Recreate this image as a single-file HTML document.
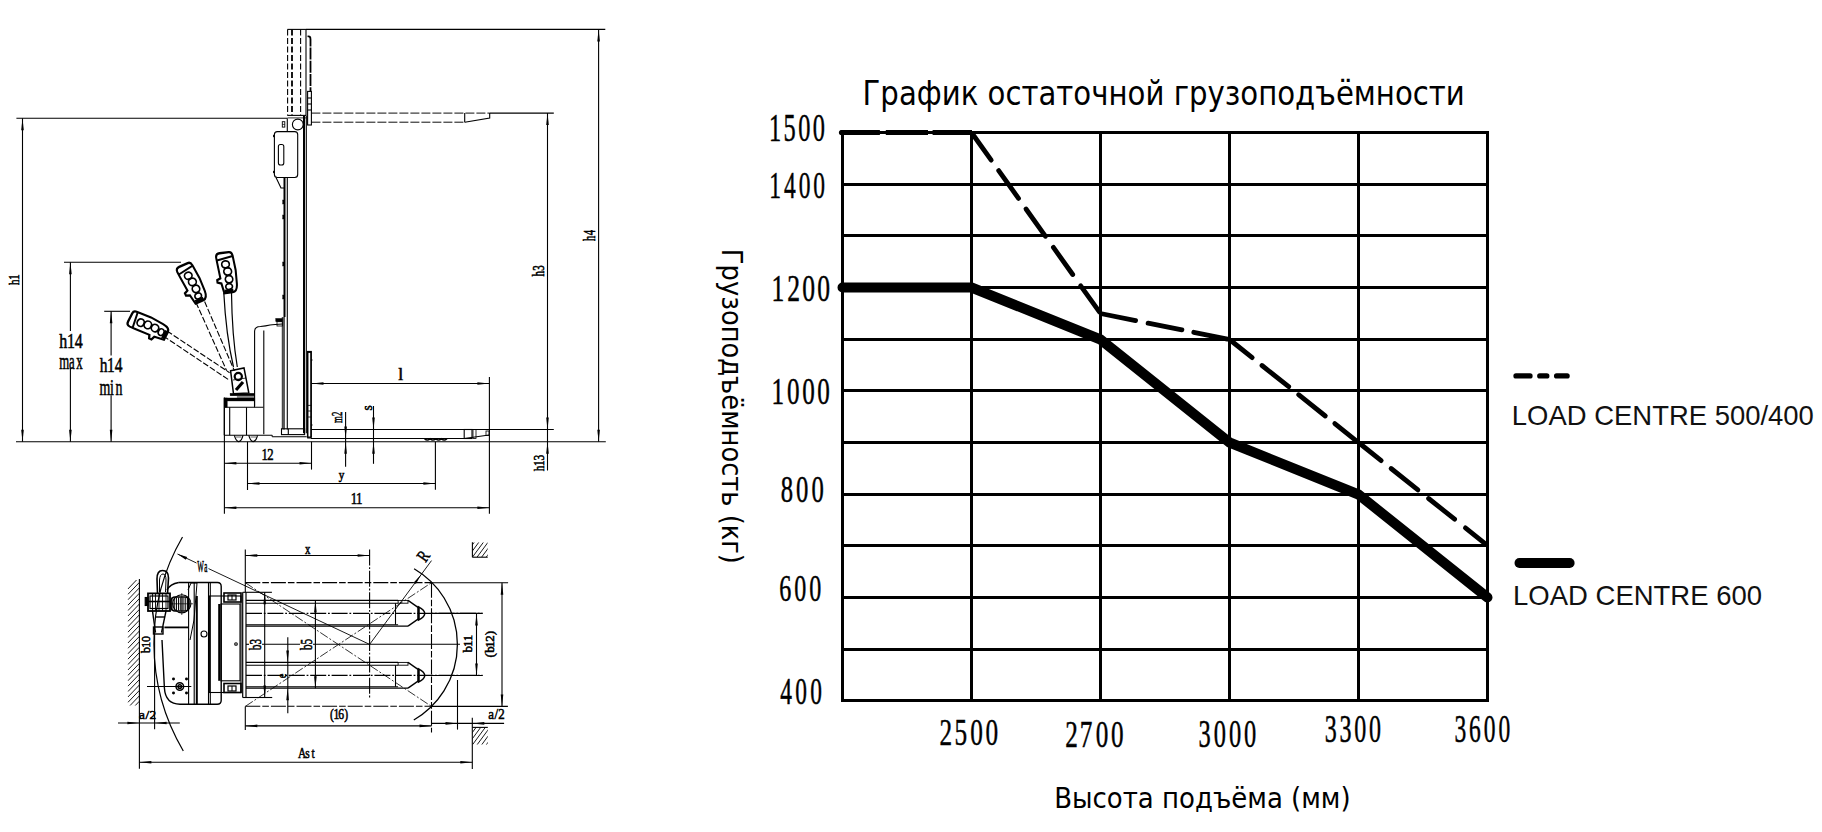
<!DOCTYPE html>
<html><head><meta charset="utf-8"><title>График остаточной грузоподъёмности</title>
<style>
html,body{margin:0;padding:0;background:#fff;}
body{width:1822px;height:832px;overflow:hidden;}
svg{display:block;}
.num{font-family:"Liberation Serif",serif;fill:#000;stroke:#000;stroke-width:0.5px;}
.ttl{font-family:"DejaVu Sans Condensed","DejaVu Sans",sans-serif;fill:#000;}
.lg{font-family:"Liberation Sans",sans-serif;fill:#111;}
.dt{font-family:"Liberation Serif",serif;fill:#000;stroke:#000;stroke-width:0.55px;}
</style></head>
<body>
<svg width="1822" height="832" viewBox="0 0 1822 832">
<rect width="1822" height="832" fill="#fff"/>
<g id="chart">
<line x1="841.0" y1="132.5" x2="1489.0" y2="132.5" stroke="#000" stroke-width="3"/>
<line x1="841.0" y1="184.5" x2="1489.0" y2="184.5" stroke="#000" stroke-width="3"/>
<line x1="841.0" y1="235.5" x2="1489.0" y2="235.5" stroke="#000" stroke-width="3"/>
<line x1="841.0" y1="287.5" x2="1489.0" y2="287.5" stroke="#000" stroke-width="3"/>
<line x1="841.0" y1="339.5" x2="1489.0" y2="339.5" stroke="#000" stroke-width="3"/>
<line x1="841.0" y1="390.5" x2="1489.0" y2="390.5" stroke="#000" stroke-width="3"/>
<line x1="841.0" y1="442.5" x2="1489.0" y2="442.5" stroke="#000" stroke-width="3"/>
<line x1="841.0" y1="494.5" x2="1489.0" y2="494.5" stroke="#000" stroke-width="3"/>
<line x1="841.0" y1="545.5" x2="1489.0" y2="545.5" stroke="#000" stroke-width="3"/>
<line x1="841.0" y1="597.5" x2="1489.0" y2="597.5" stroke="#000" stroke-width="3"/>
<line x1="841.0" y1="649.5" x2="1489.0" y2="649.5" stroke="#000" stroke-width="3"/>
<line x1="841.0" y1="700.5" x2="1489.0" y2="700.5" stroke="#000" stroke-width="3"/>
<line x1="842.5" y1="131.0" x2="842.5" y2="702.0" stroke="#000" stroke-width="3"/>
<line x1="971.5" y1="131.0" x2="971.5" y2="702.0" stroke="#000" stroke-width="3"/>
<line x1="1100.5" y1="131.0" x2="1100.5" y2="702.0" stroke="#000" stroke-width="3"/>
<line x1="1229.5" y1="131.0" x2="1229.5" y2="702.0" stroke="#000" stroke-width="3"/>
<line x1="1358.5" y1="131.0" x2="1358.5" y2="702.0" stroke="#000" stroke-width="3"/>
<line x1="1487.5" y1="131.0" x2="1487.5" y2="702.0" stroke="#000" stroke-width="3"/>
<g stroke="#000" stroke-width="4.8" stroke-linecap="round"><line x1="972.9" y1="134.5" x2="991.2" y2="160.1"/><line x1="998.7" y1="170.6" x2="1018.5" y2="198.4"/><line x1="1026.0" y1="209.0" x2="1045.5" y2="236.3"/><line x1="1053.4" y1="247.4" x2="1072.7" y2="274.5"/><line x1="1080.7" y1="285.8" x2="1099.6" y2="312.2"/><line x1="1102.9" y1="314.0" x2="1135.6" y2="320.6"/><line x1="1148.1" y1="323.1" x2="1181.9" y2="329.9"/><line x1="1193.8" y1="332.3" x2="1227.5" y2="339.1"/><line x1="1231.4" y1="341.0" x2="1252.2" y2="357.6"/><line x1="1262.0" y1="365.5" x2="1288.7" y2="386.7"/><line x1="1298.6" y1="394.7" x2="1325.3" y2="416.0"/><line x1="1334.8" y1="423.6" x2="1356.3" y2="440.8"/><line x1="1360.4" y1="444.0" x2="1381.2" y2="460.6"/><line x1="1391.1" y1="468.5" x2="1417.9" y2="489.9"/><line x1="1428.6" y1="498.5" x2="1454.6" y2="519.2"/><line x1="1465.4" y1="527.9" x2="1485.7" y2="544.1"/></g>
<g stroke="#000" stroke-width="4.8"><line x1="840.5" y1="132.5" x2="879.9" y2="132.5"/><line x1="885.8" y1="132.5" x2="928" y2="132.5"/><line x1="932.6" y1="132.5" x2="972" y2="132.5"/></g><circle cx="841.5" cy="132.5" r="2.6" fill="#000"/>
<polyline points="842.5,287.5 971.5,287.5 1100.5,339.5 1229.5,442.5 1358.5,494.5 1487.5,597.5" fill="none" stroke="#000" stroke-width="10" stroke-linejoin="round" stroke-linecap="round"/>
<text class="num" transform="scale(0.6086,1)" x="1263.57 1287.49 1311.61 1335.36" y="141.21" font-size="40.01">1500</text>
<text class="num" transform="scale(0.6016,1)" x="1278.57 1303.25 1327.55 1351.76" y="197.92" font-size="38.97">1400</text>
<text class="num" transform="scale(0.6905,1)" x="1117.31 1139.99 1161.73 1183.68" y="300.94" font-size="37.05">1200</text>
<text class="num" transform="scale(0.6783,1)" x="1137.50 1160.35 1182.68 1205.02" y="403.84" font-size="37.05">1000</text>
<text class="num" transform="scale(0.6631,1)" x="1177.27 1200.45 1223.64" y="501.94" font-size="37.20">800</text>
<text class="num" transform="scale(0.6269,1)" x="1242.88 1267.11 1291.08" y="600.73" font-size="38.38">600</text>
<text class="num" transform="scale(0.6309,1)" x="1236.78 1260.56 1284.27" y="703.64" font-size="37.05">400</text>
<text class="num" transform="scale(0.6552,1)" x="1434.09 1456.91 1480.67 1504.07" y="745.42" font-size="38.53">2500</text>
<text class="num" transform="scale(0.6506,1)" x="1637.22 1659.81 1684.06 1707.59" y="747.02" font-size="38.68">2700</text>
<text class="num" transform="scale(0.6177,1)" x="1940.26 1964.97 1989.51 2014.05" y="747.01" font-size="39.57">3000</text>
<text class="num" transform="scale(0.5960,1)" x="2222.54 2247.35 2272.33 2297.13" y="742.01" font-size="40.31">3300</text>
<text class="num" transform="scale(0.5834,1)" x="2493.11 2518.08 2543.41 2568.47" y="742.01" font-size="40.31">3600</text>
<text class="ttl" x="862.55" y="104.90" font-size="33.60" textLength="602.28" lengthAdjust="spacingAndGlyphs">График остаточной грузоподъёмности</text>
<text class="ttl" x="1054.16" y="807.80" font-size="28.90" textLength="296.47" lengthAdjust="spacingAndGlyphs">Высота подъёма (мм)</text>
<text class="ttl" transform="rotate(90)" x="248.88" y="-722.20" font-size="27.80" textLength="315.03" lengthAdjust="spacingAndGlyphs">Грузоподъёмность (кг)</text>
<line x1="1516.0" y1="375.9" x2="1530.0" y2="375.9" stroke="#000" stroke-width="5.3" stroke-linecap="round"/><line x1="1539.8" y1="375.9" x2="1546.8" y2="375.9" stroke="#000" stroke-width="5.3" stroke-linecap="round"/><line x1="1556.6" y1="375.9" x2="1567.1" y2="375.9" stroke="#000" stroke-width="5.3" stroke-linecap="round"/>
<line x1="1519.4" y1="563" x2="1569.7" y2="563" stroke="#000" stroke-width="9.8" stroke-linecap="round"/>
<text class="lg" x="1511.85" y="424.54" font-size="26.83" textLength="302.02" lengthAdjust="spacingAndGlyphs">LOAD CENTRE 500/400</text>
<text class="lg" x="1513.04" y="604.54" font-size="27.12" textLength="249.03" lengthAdjust="spacingAndGlyphs">LOAD CENTRE 600</text>
</g>
<g id="drawing" fill="none" stroke="#000" stroke-width="1.1">
<line x1="16.0" y1="441.7" x2="605.8" y2="441.7"/>
<line x1="16.4" y1="118.2" x2="287.0" y2="118.2"/>
<line x1="22.5" y1="118.2" x2="22.5" y2="441.7"/>
<polygon points="22.5,118.2 23.8,130.2 21.2,130.2" fill="#000" stroke="none"/>
<polygon points="22.5,441.7 21.2,429.7 23.8,429.7" fill="#000" stroke="none"/>
<text class="dt" transform="rotate(-90) scale(0.7120,1)" x="-400.41 -393.06" y="18.80" font-size="15.57">h1</text>
<line x1="64.0" y1="262.2" x2="181.0" y2="262.2"/>
<line x1="70.4" y1="262.2" x2="70.4" y2="331.0"/>
<line x1="70.4" y1="368.0" x2="70.4" y2="441.7"/>
<polygon points="70.4,262.2 71.7,274.2 69.1,274.2" fill="#000" stroke="none"/>
<polygon points="70.4,441.7 69.1,429.7 71.7,429.7" fill="#000" stroke="none"/>
<text class="dt" transform="scale(0.7340,1)" x="80.85 91.13 102.00" y="347.60" font-size="21.76">h14</text>
<text class="dt" transform="scale(0.5646,1)" x="104.91 122.05 135.24" y="369.08" font-size="22.66">max</text>
<line x1="104.2" y1="311.3" x2="130.0" y2="311.3"/>
<line x1="111.1" y1="311.3" x2="111.1" y2="355.6"/>
<line x1="111.1" y1="395.2" x2="111.1" y2="441.7"/>
<polygon points="111.1,311.3 112.4,323.3 109.8,323.3" fill="#000" stroke="none"/>
<polygon points="111.1,441.7 109.8,429.7 112.4,429.7" fill="#000" stroke="none"/>
<text class="dt" transform="scale(0.7070,1)" x="141.08 151.42 162.36" y="372.20" font-size="21.91">h14</text>
<text class="dt" transform="scale(0.6265,1)" x="158.99 175.78 184.45" y="395.50" font-size="22.20">min</text>
<line x1="306.0" y1="29.4" x2="605.3" y2="29.4"/>
<line x1="598.6" y1="29.4" x2="598.6" y2="441.7"/>
<polygon points="598.6,29.4 599.9,41.4 597.3,41.4" fill="#000" stroke="none"/>
<polygon points="598.6,441.7 597.3,429.7 599.9,429.7" fill="#000" stroke="none"/>
<text class="dt" transform="rotate(-90) scale(0.6708,1)" x="-359.44 -350.72" y="595.30" font-size="15.85">h4</text>
<line x1="489.7" y1="113.1" x2="553.8" y2="113.1"/>
<line x1="547.5" y1="113.1" x2="547.5" y2="470.6"/>
<polygon points="547.5,113.1 548.8,125.1 546.2,125.1" fill="#000" stroke="none"/>
<polygon points="547.5,429.5 546.2,417.5 548.8,417.5" fill="#000" stroke="none"/>
<polygon points="547.5,441.7 548.8,453.7 546.2,453.7" fill="#000" stroke="none"/>
<text class="dt" transform="rotate(-90) scale(0.6754,1)" x="-409.40 -401.02" y="543.84" font-size="16.20">h3</text>
<text class="dt" transform="rotate(-90) scale(0.7280,1)" x="-647.17 -640.04 -632.52" y="543.65" font-size="15.63">h13</text>
<line x1="489.0" y1="429.5" x2="553.8" y2="429.5"/>
<line x1="284.5" y1="177.4" x2="284.5" y2="317.0" stroke-width="2"/>
<line x1="284.0" y1="317.0" x2="284.0" y2="429.4" stroke-width="1.3"/>
<line x1="287.3" y1="177.4" x2="287.3" y2="429.4"/>
<line x1="287.3" y1="118.2" x2="287.3" y2="131.9"/>
<line x1="304.0" y1="115.8" x2="304.0" y2="433.3" stroke-width="2"/>
<line x1="306.3" y1="115.8" x2="306.3" y2="433.3"/>
<line x1="287.4" y1="115.4" x2="306.3" y2="115.4"/>
<line x1="287.4" y1="117.9" x2="306.3" y2="117.9" stroke-width="0.8"/>
<rect x="281.5" y="428.8" width="23.1" height="5.8"/>
<line x1="288.3" y1="428.8" x2="288.3" y2="434.6"/>
<line x1="287.6" y1="29.4" x2="287.6" y2="115.4" stroke-dasharray="6 2.5"/>
<line x1="292.0" y1="29.4" x2="292.0" y2="115.4" stroke-width="1.8" stroke-dasharray="6 2.5"/>
<line x1="300.6" y1="29.4" x2="300.6" y2="115.4" stroke-dasharray="6 2.5"/>
<line x1="306.0" y1="29.4" x2="306.0" y2="115.4"/>
<line x1="287.4" y1="29.4" x2="306.2" y2="29.4"/>
<path d="M307.5,36.5 Q310.5,35.5 310.5,39.5 L310.5,91.4" stroke-width="1.8" stroke-dasharray="12 1.2"/>
<rect x="307.6" y="91.4" width="3.8" height="33.6"/>
<line x1="307.6" y1="98.0" x2="311.4" y2="98.0"/>
<line x1="307.6" y1="104.0" x2="311.4" y2="104.0"/>
<line x1="307.6" y1="110.0" x2="311.4" y2="110.0"/>
<line x1="311.4" y1="113.1" x2="489.7" y2="113.1" stroke-width="0.95" stroke-dasharray="9 2"/>
<line x1="311.4" y1="122.2" x2="464.7" y2="122.2" stroke-width="0.95" stroke-dasharray="9 2"/>
<line x1="464.7" y1="113.1" x2="464.7" y2="122.2"/>
<polyline points="464.7,122.2 489.7,118.0 489.7,113.1"/>
<circle cx="297.8" cy="124.5" r="5.4"/>
<rect x="282.3" y="121.7" width="2.5" height="5.4" stroke-width="0.9"/>
<line x1="282.3" y1="124.4" x2="284.8" y2="124.4" stroke-width="0.7"/>
<rect x="274.4" y="131.6" width="23.3" height="45.9" rx="3"/>
<rect x="278.4" y="144.5" width="5.4" height="20.5" rx="2"/>
<polyline points="276.0,177.4 281.0,188.0 284.0,188.0"/>
<rect x="273.2" y="135.0" width="1.2" height="2.0" stroke-width="0.3" fill="#000"/>
<rect x="273.2" y="171.0" width="1.2" height="2.0" stroke-width="0.3" fill="#000"/>
<rect x="282.6" y="200.0" width="1.9" height="4.0" stroke-width="0.3" fill="#000"/>
<rect x="282.6" y="215.0" width="1.9" height="4.0" stroke-width="0.3" fill="#000"/>
<rect x="282.6" y="262.0" width="1.9" height="4.0" stroke-width="0.3" fill="#000"/>
<rect x="282.6" y="295.0" width="1.9" height="4.0" stroke-width="0.3" fill="#000"/>
<rect x="307.8" y="352.3" width="3.1" height="85.6" stroke-width="1.2"/>
<line x1="310.9" y1="360.0" x2="312.5" y2="360.0"/>
<line x1="310.9" y1="425.0" x2="312.5" y2="425.0"/>
<path d="M254.6,406.3 L254.6,331 Q255,326.5 260.4,326.5 Q266,326 270,325 Q274,324.2 282.5,324" stroke-width="1.1"/>
<line x1="263.8" y1="330.4" x2="263.8" y2="434.2"/>
<rect x="275.8" y="318.5" width="6.7" height="3.2" stroke-width="0.5" fill="#000"/>
<rect x="277.0" y="321.7" width="5.5" height="4.3" stroke-width="0.8"/>
<rect x="307.5" y="351.5" width="3.8" height="85.6" stroke-width="1.2"/>
<line x1="307.5" y1="405.4" x2="311.3" y2="405.4" stroke-width="0.8"/>
<line x1="307.5" y1="411.0" x2="311.3" y2="411.0" stroke-width="0.8"/>
<line x1="307.5" y1="417.0" x2="311.3" y2="417.0" stroke-width="0.8"/>
<line x1="224.3" y1="397.5" x2="224.3" y2="435.2" stroke-width="1.2"/>
<rect x="224.3" y="398.0" width="30.2" height="2.6" stroke-width="0.4" fill="#000"/>
<rect x="224.3" y="398.0" width="2.9" height="9.3" stroke-width="0.4" fill="#000"/>
<line x1="227.2" y1="400.6" x2="254.5" y2="400.6"/>
<line x1="254.5" y1="398.0" x2="254.5" y2="407.3"/>
<line x1="224.3" y1="407.3" x2="263.4" y2="407.3"/>
<line x1="229.7" y1="407.3" x2="229.7" y2="435.2"/>
<line x1="246.5" y1="407.3" x2="246.5" y2="435.2"/>
<line x1="224.3" y1="435.2" x2="272.2" y2="435.2"/>
<line x1="272.2" y1="435.2" x2="272.2" y2="436.8"/>
<line x1="272.2" y1="436.8" x2="306.7" y2="436.8"/>
<line x1="282.3" y1="317.0" x2="282.3" y2="429.2" stroke-width="0.9"/>
<path d="M234.4,435.4 Q236,441.5 238.7,441.6 Q241.5,441.5 243,435.4 M248.8,435.4 Q250.5,441.5 253.1,441.6 Q256,441.5 257.5,435.4" stroke-width="1.2"/>
<line x1="236.0" y1="437.0" x2="241.5" y2="437.0" stroke-width="0.6"/>
<line x1="250.5" y1="437.0" x2="256.0" y2="437.0" stroke-width="0.6"/>
<line x1="310.9" y1="429.5" x2="489.0" y2="429.5"/>
<line x1="310.9" y1="438.5" x2="464.2" y2="438.5"/>
<rect x="464.2" y="429.5" width="7.8" height="9.0"/>
<rect x="473.0" y="429.5" width="3.0" height="9.0" stroke-width="0.8"/>
<rect x="486.0" y="431.0" width="3.0" height="4.5" stroke-width="0.8"/>
<polyline points="464.2,438.5 489.0,435.0"/>
<path d="M424.5,438.8 q2.8,2.6 5.6,0 q2.8,2.6 5.6,0 M435.8,438.8 q2.8,2.6 5.6,0 q2.8,2.6 5.6,0" stroke-width="1.4"/>
<polygon points="230.6,370.8 244.0,367.9 248.8,392.9 233.5,393.8" stroke-width="1.5"/>
<circle cx="238.3" cy="376.5" r="3.6" stroke-width="2.2"/>
<path d="M236,390 L243,382" stroke-width="3.2"/>
<line x1="233.0" y1="380.0" x2="246.0" y2="378.0" stroke-width="0.8"/>
<rect x="230.1" y="393.3" width="24.4" height="2.5" stroke-width="0.4" fill="#000"/>
<line x1="236.9" y1="397.0" x2="254.5" y2="397.0" stroke-width="0.9"/>
<path d="M223.8,292.9 Q226,335 233.5,367" stroke-width="1.2"/>
<path d="M231.5,292.9 Q232,335 237.3,367" stroke-width="1.2"/>
<line x1="196.0" y1="302.5" x2="226.7" y2="370.8" stroke-dasharray="6 2"/>
<line x1="204.6" y1="301.5" x2="234.4" y2="370.8" stroke-dasharray="6 2"/>
<line x1="163.3" y1="336.0" x2="229.6" y2="380.4" stroke-dasharray="6 2"/>
<line x1="167.0" y1="331.0" x2="229.6" y2="372.7" stroke-dasharray="6 2"/>
<g transform="translate(229.4,292.5) rotate(-7) scale(0.85,0.98)"><path d="M-6,0 L-8,-10 L-12.5,-11.5 L-12.5,-14 L-8.5,-15.5 L-10,-31 L-10.5,-37 Q-10.5,-41 -6,-41 L5,-41 Q8.5,-41 9,-37 L10.5,-22 L10,-8 Q9.5,0 4,0 Z" stroke-width="2.4"/><path d="M-10,-34 L9,-36.5" stroke-width="2"/><ellipse cx="-0.5" cy="-29" rx="4.5" ry="3.6" stroke-width="1.9"/><ellipse cx="1" cy="-21.5" rx="4.6" ry="3.8" stroke-width="1.9"/><ellipse cx="1.5" cy="-13.5" rx="4.4" ry="3.8" stroke-width="1.9"/><ellipse cx="0.5" cy="-6" rx="4" ry="3" stroke-width="1.9"/><path d="M-5.5,-1.8 L5,-1.8" stroke-width="3.2"/></g>
<g transform="translate(200.2,301.5) rotate(-24) scale(0.85,0.98)"><path d="M-6,0 L-8,-10 L-12.5,-11.5 L-12.5,-14 L-8.5,-15.5 L-10,-31 L-10.5,-37 Q-10.5,-41 -6,-41 L5,-41 Q8.5,-41 9,-37 L10.5,-22 L10,-8 Q9.5,0 4,0 Z" stroke-width="2.4"/><path d="M-10,-34 L9,-36.5" stroke-width="2"/><ellipse cx="-0.5" cy="-29" rx="4.5" ry="3.6" stroke-width="1.9"/><ellipse cx="1" cy="-21.5" rx="4.6" ry="3.8" stroke-width="1.9"/><ellipse cx="1.5" cy="-13.5" rx="4.4" ry="3.8" stroke-width="1.9"/><ellipse cx="0.5" cy="-6" rx="4" ry="3" stroke-width="1.9"/><path d="M-5.5,-1.8 L5,-1.8" stroke-width="3.2"/></g>
<g transform="translate(166.2,335.2) rotate(-63) scale(0.85,0.98)"><path d="M-6,0 L-8,-10 L-12.5,-11.5 L-12.5,-14 L-8.5,-15.5 L-10,-31 L-10.5,-37 Q-10.5,-41 -6,-41 L5,-41 Q8.5,-41 9,-37 L10.5,-22 L10,-8 Q9.5,0 4,0 Z" stroke-width="2.4"/><path d="M-10,-34 L9,-36.5" stroke-width="2"/><ellipse cx="-0.5" cy="-29" rx="4.5" ry="3.6" stroke-width="1.9"/><ellipse cx="1" cy="-21.5" rx="4.6" ry="3.8" stroke-width="1.9"/><ellipse cx="1.5" cy="-13.5" rx="4.4" ry="3.8" stroke-width="1.9"/><ellipse cx="0.5" cy="-6" rx="4" ry="3" stroke-width="1.9"/><path d="M-5.5,-1.8 L5,-1.8" stroke-width="3.2"/></g>
<line x1="311.5" y1="383.5" x2="489.4" y2="383.5"/>
<polygon points="311.5,383.5 323.5,382.2 323.5,384.8" fill="#000" stroke="none"/>
<polygon points="489.4,383.5 477.4,384.8 477.4,382.2" fill="#000" stroke="none"/>
<line x1="489.4" y1="376.9" x2="489.4" y2="513.8"/>
<text class="dt" x="398.25" y="380.00" font-size="16.14" textLength="4.91" lengthAdjust="spacingAndGlyphs">l</text>
<line x1="224.4" y1="398.0" x2="224.4" y2="513.8"/>
<line x1="224.4" y1="463.3" x2="311.5" y2="463.3"/>
<polygon points="224.4,463.3 236.4,462.0 236.4,464.6" fill="#000" stroke="none"/>
<polygon points="311.5,463.3 299.5,464.6 299.5,462.0" fill="#000" stroke="none"/>
<line x1="311.5" y1="441.7" x2="311.5" y2="469.6"/>
<text class="dt" transform="scale(0.7504,1)" x="348.48 356.30" y="459.80" font-size="16.92">12</text>
<line x1="247.5" y1="441.7" x2="247.5" y2="490.0"/>
<line x1="435.4" y1="441.7" x2="435.4" y2="489.8"/>
<line x1="247.5" y1="483.5" x2="435.4" y2="483.5"/>
<polygon points="247.5,483.5 259.5,482.2 259.5,484.8" fill="#000" stroke="none"/>
<polygon points="435.4,483.5 423.4,484.8 423.4,482.2" fill="#000" stroke="none"/>
<text class="dt" x="338.66" y="479.02" font-size="13.34" textLength="5.58" lengthAdjust="spacingAndGlyphs">y</text>
<line x1="224.4" y1="507.7" x2="489.4" y2="507.7"/>
<polygon points="224.4,507.7 236.4,506.4 236.4,509.0" fill="#000" stroke="none"/>
<polygon points="489.4,507.7 477.4,509.0 477.4,506.4" fill="#000" stroke="none"/>
<text class="dt" transform="scale(0.7898,1)" x="444.14 450.91" y="504.00" font-size="16.36">11</text>
<line x1="345.6" y1="412.0" x2="345.6" y2="466.7"/>
<polygon points="345.6,438.5 344.3,426.5 346.9,426.5" fill="#000" stroke="none"/>
<polygon points="345.6,441.7 346.9,453.7 344.3,453.7" fill="#000" stroke="none"/>
<text class="dt" transform="rotate(-90) scale(0.5641,1)" x="-750.06 -737.44" y="342.00" font-size="15.41">m2</text>
<line x1="373.5" y1="406.0" x2="373.5" y2="463.8"/>
<polygon points="373.5,429.5 372.2,417.5 374.8,417.5" fill="#000" stroke="none"/>
<polygon points="373.5,441.7 374.8,453.7 372.2,453.7" fill="#000" stroke="none"/>
<text class="dt" transform="rotate(-90)" x="-410.55" y="371.56" font-size="14.76" textLength="5.24" lengthAdjust="spacingAndGlyphs">s</text>
<defs><clipPath id="hc1"><rect x="127.5" y="580" width="12" height="125.5"/></clipPath><clipPath id="hc2"><rect x="472.4" y="542.3" width="15.3" height="14.9"/></clipPath><clipPath id="hc3"><rect x="472.3" y="727.4" width="15.5" height="17"/></clipPath></defs>
<line x1="139.4" y1="579.0" x2="139.4" y2="768.7"/>
<g clip-path="url(#hc1)" stroke-width="0.9"><line x1="127.9" y1="589.0" x2="139.4" y2="577.0"/><line x1="127.9" y1="594.4" x2="139.4" y2="582.4"/><line x1="127.9" y1="599.8" x2="139.4" y2="587.8"/><line x1="127.9" y1="605.2" x2="139.4" y2="593.2"/><line x1="127.9" y1="610.6" x2="139.4" y2="598.6"/><line x1="127.9" y1="616.0" x2="139.4" y2="604.0"/><line x1="127.9" y1="621.4" x2="139.4" y2="609.4"/><line x1="127.9" y1="626.8" x2="139.4" y2="614.8"/><line x1="127.9" y1="632.2" x2="139.4" y2="620.2"/><line x1="127.9" y1="637.6" x2="139.4" y2="625.6"/><line x1="127.9" y1="643.0" x2="139.4" y2="631.0"/><line x1="127.9" y1="648.4" x2="139.4" y2="636.4"/><line x1="127.9" y1="653.8" x2="139.4" y2="641.8"/><line x1="127.9" y1="659.2" x2="139.4" y2="647.2"/><line x1="127.9" y1="664.6" x2="139.4" y2="652.6"/><line x1="127.9" y1="670.0" x2="139.4" y2="658.0"/><line x1="127.9" y1="675.4" x2="139.4" y2="663.4"/><line x1="127.9" y1="680.8" x2="139.4" y2="668.8"/><line x1="127.9" y1="686.2" x2="139.4" y2="674.2"/><line x1="127.9" y1="691.6" x2="139.4" y2="679.6"/><line x1="127.9" y1="697.0" x2="139.4" y2="685.0"/><line x1="127.9" y1="702.4" x2="139.4" y2="690.4"/><line x1="127.9" y1="707.8" x2="139.4" y2="695.8"/><line x1="127.9" y1="713.2" x2="139.4" y2="701.2"/><line x1="127.9" y1="718.6" x2="139.4" y2="706.6"/><line x1="127.9" y1="724.0" x2="139.4" y2="712.0"/></g>
<line x1="472.4" y1="542.3" x2="472.4" y2="557.2"/>
<line x1="472.4" y1="557.2" x2="487.7" y2="557.2"/>
<g clip-path="url(#hc2)" stroke-width="0.9"><line x1="463.2" y1="557.2" x2="474.2" y2="542.3"/><line x1="467.8" y1="557.2" x2="478.8" y2="542.3"/><line x1="472.4" y1="557.2" x2="483.4" y2="542.3"/><line x1="477.0" y1="557.2" x2="488.0" y2="542.3"/><line x1="481.6" y1="557.2" x2="492.6" y2="542.3"/><line x1="486.2" y1="557.2" x2="497.2" y2="542.3"/></g>
<line x1="472.3" y1="717.8" x2="472.3" y2="768.9"/>
<line x1="472.3" y1="727.4" x2="487.8" y2="727.4"/>
<g clip-path="url(#hc3)" stroke-width="0.9"><line x1="463.1" y1="745" x2="476.1" y2="727.4"/><line x1="467.7" y1="745" x2="480.7" y2="727.4"/><line x1="472.3" y1="745" x2="485.3" y2="727.4"/><line x1="476.9" y1="745" x2="489.9" y2="727.4"/><line x1="481.5" y1="745" x2="494.5" y2="727.4"/><line x1="486.1" y1="745" x2="499.1" y2="727.4"/></g>
<line x1="245.3" y1="582.6" x2="431.5" y2="582.6" stroke-dasharray="15 2 6.6 2"/>
<line x1="431.5" y1="582.7" x2="508.1" y2="582.7"/>
<line x1="245.3" y1="706.3" x2="431.5" y2="706.3" stroke-dasharray="15 2 6.6 2"/>
<line x1="431.5" y1="706.4" x2="507.9" y2="706.4"/>
<line x1="431.5" y1="582.7" x2="431.5" y2="732.6" stroke-dasharray="15 2 6.6 2"/>
<line x1="369.6" y1="549.4" x2="369.6" y2="699.3" stroke-dasharray="16 1.8 1.8 1.8"/>
<line x1="246.0" y1="644.3" x2="249.0" y2="644.3"/>
<line x1="262.0" y1="644.3" x2="300.0" y2="644.3"/>
<line x1="313.0" y1="644.3" x2="460.0" y2="644.3"/>
<line x1="245.3" y1="582.7" x2="431.5" y2="706.4" stroke-width="0.8" stroke-dasharray="9 2 2 2"/>
<line x1="245.3" y1="706.4" x2="431.5" y2="582.7" stroke-width="0.8" stroke-dasharray="9 2 2 2"/>
<line x1="177.5" y1="554.0" x2="196.5" y2="563.0" stroke-width="0.9"/>
<line x1="208.5" y1="568.6" x2="369.6" y2="644.4" stroke-width="0.9"/>
<line x1="369.6" y1="644.4" x2="431.5" y2="560.6" stroke-width="0.9"/>
<polygon points="421.3,574.4 415.8,584.0 413.7,582.5" fill="#000" stroke="none"/>
<path d="M182.5,537 A212,212 0 0 0 183.3,751" stroke-width="1.2"/>
<polygon points="178.0,550.0 178.1,550.1 177.9,550.1" fill="#000" stroke="none"/>
<polygon points="177.5,554.0 187.2,556.9 185.8,559.8" fill="#000" stroke="none"/>
<path d="M414.1,568.8 A87.5,87.5 0 0 1 413.8,720" stroke-width="1.3"/>
<line x1="457.5" y1="680.0" x2="457.5" y2="729.6"/>
<line x1="246.0" y1="600.4" x2="398.1" y2="600.4"/>
<line x1="246.0" y1="603.2" x2="398.1" y2="603.2"/>
<line x1="246.0" y1="626.1" x2="408.0" y2="626.1"/>
<line x1="246.0" y1="624.7" x2="398.1" y2="624.7"/>
<rect x="398.1" y="600.4" width="9.9" height="2.8" stroke-width="0.9"/>
<polyline points="408.0,600.4 418.0,607.4" stroke-width="1.3"/>
<polyline points="418.0,619.1 408.0,626.1" stroke-width="1.3"/>
<line x1="395.5" y1="603.2" x2="395.5" y2="624.7"/>
<path d="M418.5,606.8 Q431,613.4 418.5,620.0 Z" stroke-width="1.5"/>
<line x1="418.5" y1="606.8" x2="418.5" y2="620.0" stroke-width="2.4"/>
<line x1="246.0" y1="613.4" x2="482.6" y2="613.4" stroke-dasharray="16 1.8 1.8 1.8"/>
<line x1="246.0" y1="662.4" x2="398.1" y2="662.4"/>
<line x1="246.0" y1="665.2" x2="398.1" y2="665.2"/>
<line x1="246.0" y1="688.1" x2="408.0" y2="688.1"/>
<line x1="246.0" y1="686.7" x2="398.1" y2="686.7"/>
<rect x="398.1" y="662.4" width="9.9" height="2.8" stroke-width="0.9"/>
<polyline points="408.0,662.4 418.0,669.4" stroke-width="1.3"/>
<polyline points="418.0,681.1 408.0,688.1" stroke-width="1.3"/>
<line x1="395.5" y1="665.2" x2="395.5" y2="686.7"/>
<path d="M418.5,668.8 Q431,675.4 418.5,682.0 Z" stroke-width="1.5"/>
<line x1="418.5" y1="668.8" x2="418.5" y2="682.0" stroke-width="2.4"/>
<line x1="246.0" y1="675.4" x2="482.6" y2="675.4" stroke-dasharray="16 1.8 1.8 1.8"/>
<line x1="242.7" y1="592.3" x2="242.7" y2="697.5" stroke-width="1.2"/>
<line x1="246.0" y1="592.3" x2="246.0" y2="697.5" stroke-width="1.2"/>
<line x1="245.3" y1="549.4" x2="245.3" y2="592.3"/>
<line x1="242.7" y1="592.3" x2="271.9" y2="592.3"/>
<line x1="242.7" y1="697.5" x2="272.2" y2="697.5"/>
<line x1="264.7" y1="592.3" x2="264.7" y2="697.5"/>
<polygon points="264.7,592.3 266.0,604.3 263.4,604.3" fill="#000" stroke="none"/>
<polygon points="264.7,697.5 263.4,685.5 266.0,685.5" fill="#000" stroke="none"/>
<text class="dt" transform="rotate(-90) scale(0.6747,1)" x="-963.28 -955.25" y="261.04" font-size="16.34">b3</text>
<line x1="315.4" y1="600.5" x2="315.4" y2="688.3"/>
<polygon points="315.4,600.5 316.7,612.5 314.1,612.5" fill="#000" stroke="none"/>
<polygon points="315.4,688.3 314.1,676.3 316.7,676.3" fill="#000" stroke="none"/>
<text class="dt" transform="rotate(-90) scale(0.6827,1)" x="-951.99 -944.14" y="311.94" font-size="16.34">b5</text>
<line x1="287.8" y1="637.3" x2="287.8" y2="713.3"/>
<polygon points="287.6,662.4 286.3,650.4 288.9,650.4" fill="#000" stroke="none"/>
<polygon points="287.6,688.3 288.9,700.3 286.3,700.3" fill="#000" stroke="none"/>
<text class="dt" transform="rotate(-90)" x="-678.20" y="285.67" font-size="13.10" textLength="4.56" lengthAdjust="spacingAndGlyphs">e</text>
<line x1="245.3" y1="555.5" x2="369.6" y2="555.5"/>
<polygon points="245.3,555.5 257.3,554.2 257.3,556.8" fill="#000" stroke="none"/>
<polygon points="369.6,555.5 357.6,556.8 357.6,554.2" fill="#000" stroke="none"/>
<text class="dt" x="304.90" y="553.80" font-size="15.03" textLength="5.43" lengthAdjust="spacingAndGlyphs">x</text>
<line x1="245.3" y1="706.4" x2="245.3" y2="730.0"/>
<line x1="245.3" y1="725.9" x2="431.5" y2="725.9"/>
<polygon points="245.3,725.9 257.3,724.6 257.3,727.2" fill="#000" stroke="none"/>
<polygon points="431.5,725.9 419.5,727.2 419.5,724.6" fill="#000" stroke="none"/>
<text class="dt" transform="scale(0.8356,1)" x="394.92 399.24 404.93 411.86" y="719.24" font-size="13.90">(16)</text>
<line x1="431.5" y1="613.4" x2="482.6" y2="613.4"/>
<line x1="431.5" y1="675.5" x2="482.6" y2="675.5"/>
<line x1="476.5" y1="613.4" x2="476.5" y2="675.5"/>
<polygon points="476.5,613.4 477.8,625.4 475.2,625.4" fill="#000" stroke="none"/>
<polygon points="476.5,675.5 475.2,663.5 477.8,663.5" fill="#000" stroke="none"/>
<text class="dt" transform="rotate(-90) scale(1.0198,1)" x="-639.81 -634.50 -628.77" y="472.38" font-size="12.79">b11</text>
<line x1="502.0" y1="582.7" x2="502.0" y2="706.4"/>
<polygon points="502.0,582.7 503.3,594.7 500.7,594.7" fill="#000" stroke="none"/>
<polygon points="502.0,706.4 500.7,694.4 503.3,694.4" fill="#000" stroke="none"/>
<text class="dt" transform="rotate(-90) scale(0.9768,1)" x="-673.17 -668.27 -663.03 -657.10 -650.31" y="493.68" font-size="13.23">(b12)</text>
<line x1="431.5" y1="723.4" x2="504.1" y2="723.4"/>
<polygon points="457.5,723.4 445.5,724.7 445.5,722.1" fill="#000" stroke="none"/>
<polygon points="472.3,723.4 484.3,722.1 484.3,724.7" fill="#000" stroke="none"/>
<text class="dt" transform="scale(0.8344,1)" x="585.01 592.67 597.24" y="719.15" font-size="15.48">a/2</text>
<line x1="118.0" y1="723.0" x2="179.8" y2="723.0"/>
<polygon points="139.4,723.0 127.4,724.3 127.4,721.7" fill="#000" stroke="none"/>
<polygon points="154.6,723.0 166.6,721.7 166.6,724.3" fill="#000" stroke="none"/>
<line x1="154.6" y1="632.7" x2="154.6" y2="729.2"/>
<text class="dt" transform="scale(1.0416,1)" x="133.38 139.71 143.50" y="719.08" font-size="12.80">a/2</text>
<line x1="147.0" y1="686.5" x2="191.3" y2="686.5"/>
<text class="dt" transform="rotate(-90) scale(0.8874,1)" x="-735.78 -729.94 -723.47" y="149.87" font-size="13.36">b10</text>
<line x1="139.4" y1="762.3" x2="472.3" y2="762.3"/>
<polygon points="139.4,762.3 151.4,761.0 151.4,763.6" fill="#000" stroke="none"/>
<polygon points="472.3,762.3 460.3,763.6 460.3,761.0" fill="#000" stroke="none"/>
<text class="dt" transform="scale(0.7637,1)" x="390.31 399.84 407.74" y="758.35" font-size="14.93">Ast</text>
<text class="dt" transform="scale(0.4432,1)" x="444.88 460.94" y="572.26" font-size="15.67">Wa</text>
<text transform="rotate(-55 423 556)" class="dt" x="418.62" y="562.00" font-size="17.56" textLength="8.90" lengthAdjust="spacingAndGlyphs">R</text>
<path d="M178.8,582.5 L217.4,582.5 Q221.2,582.5 221.2,586.5 L221.2,700.3 Q221.2,704.3 217.2,704.3 L180,704.3 Q165.4,704 164.4,688 L162,640" stroke-width="1.4"/>
<path d="M178.8,582.5 Q170,584 167,590" stroke-width="1.4"/>
<line x1="188.6" y1="582.5" x2="188.6" y2="704.3"/>
<line x1="194.2" y1="582.5" x2="194.2" y2="704.3"/>
<line x1="196.8" y1="596.0" x2="196.8" y2="704.3" stroke-width="2"/>
<line x1="208.5" y1="582.5" x2="208.5" y2="704.3"/>
<line x1="210.3" y1="582.5" x2="210.3" y2="704.3"/>
<polyline points="188.0,590.0 191.0,583.0 197.0,583.0 194.0,620.0 190.0,640.0" stroke-width="1"/>
<line x1="164.4" y1="627.4" x2="188.6" y2="627.4" stroke-width="1.8"/>
<circle cx="204.0" cy="634.0" r="3.0"/>
<circle cx="179.8" cy="686.5" r="3.8" stroke-width="1.5"/>
<circle cx="179.8" cy="686.5" r="1.8" stroke-width="1.5"/>
<circle cx="173.5" cy="679.0" r="0.9" fill="#000"/>
<circle cx="173.5" cy="693.0" r="0.9" fill="#000"/>
<circle cx="186.5" cy="679.0" r="0.9" fill="#000"/>
<circle cx="186.5" cy="693.0" r="0.9" fill="#000"/>
<rect x="209.4" y="596.0" width="31.6" height="96.5"/>
<rect x="221.0" y="604.0" width="19.0" height="76.8"/>
<line x1="219.3" y1="604.0" x2="219.3" y2="680.8" stroke-width="2.2"/>
<rect x="224.0" y="593.0" width="17.0" height="9.0" stroke-width="1.6"/>
<rect x="224.0" y="683.5" width="17.0" height="9.0" stroke-width="1.6"/>
<rect x="228.0" y="595.0" width="8.0" height="5.0" stroke-width="1.2"/>
<rect x="228.0" y="686.0" width="8.0" height="5.0" stroke-width="1.2"/>
<line x1="232.0" y1="595.0" x2="232.0" y2="600.0" stroke-width="1"/>
<line x1="232.0" y1="686.0" x2="232.0" y2="691.0" stroke-width="1"/>
<circle cx="236.0" cy="644.0" r="1.3"/>
<path d="M157.5,594 L157,579 Q157,570.5 162.5,570.5 Q168.5,570.5 168.5,578 L167.5,594" stroke-width="1.6"/>
<path d="M159.5,592 L159.5,580 Q160,574 163,574 Q166,574 166,580 L165.5,592" stroke-width="1.0"/>
<rect x="148.0" y="593.4" width="22.0" height="17.6" stroke-width="1.8"/>
<rect x="150.0" y="596.0" width="18.0" height="12.5" stroke-width="1.2"/>
<line x1="152.5" y1="593.4" x2="152.5" y2="611.0" stroke-width="0.9"/>
<line x1="155.5" y1="593.4" x2="155.5" y2="611.0" stroke-width="0.9"/>
<line x1="159.0" y1="593.4" x2="159.0" y2="611.0" stroke-width="0.9"/>
<line x1="162.5" y1="593.4" x2="162.5" y2="611.0" stroke-width="0.9"/>
<line x1="166.0" y1="593.4" x2="166.0" y2="611.0" stroke-width="0.9"/>
<rect x="145.2" y="597.5" width="2.8" height="8.0" fill="#000"/>
<line x1="148.0" y1="601.5" x2="170.0" y2="601.5" stroke-width="1.6"/>
<polyline points="152.5,611.0 155.5,632.7" stroke-width="1.4"/>
<polyline points="166.0,611.0 161.5,632.7" stroke-width="1.4"/>
<polyline points="156.0,617.0 165.0,617.0" stroke-width="1.4"/>
<rect x="153.5" y="627.0" width="9.5" height="7.0" stroke-width="1.4"/>
<circle cx="181.8" cy="603.8" r="9.1" stroke-width="1.1"/>
<line x1="181.8" y1="593.0" x2="181.8" y2="615.0" stroke-width="0.7"/>
<line x1="170.0" y1="603.8" x2="193.0" y2="603.8" stroke-width="0.7"/>
<g stroke-width="1.1"><line x1="172.0" y1="597.5" x2="172.0" y2="610.5"/><line x1="174.2" y1="597.5" x2="174.2" y2="610.5"/><line x1="176.4" y1="597.5" x2="176.4" y2="610.5"/><line x1="178.6" y1="597.5" x2="178.6" y2="610.5"/><line x1="180.8" y1="597.5" x2="180.8" y2="610.5"/><line x1="183.0" y1="597.5" x2="183.0" y2="610.5"/><line x1="185.2" y1="597.5" x2="185.2" y2="610.5"/><line x1="187.4" y1="597.5" x2="187.4" y2="610.5"/></g>
<rect x="171.0" y="597.0" width="18.0" height="14.0" rx="4" stroke-width="1.6"/>
</g>
</svg>
</body></html>
